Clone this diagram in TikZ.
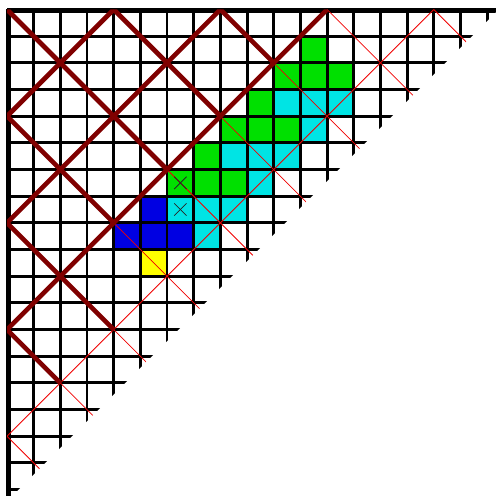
\documentclass[tikz,border=0pt]{standalone}
\usepackage{tikz}
\definecolor{pgreen}{RGB}{0,224,0}
\definecolor{pcyan}{RGB}{0,228,228}
\definecolor{pblue}{RGB}{0,0,226}
\definecolor{pyellow}{RGB}{255,255,0}
\definecolor{maroonline}{RGB}{128,0,0}
\definecolor{thinred}{RGB}{240,0,0}
\tikzset{
  gridline/.style={line width=3.1pt, black},
  borderline/.style={line width=4.2pt, black},
  thickpath/.style={line width=5pt, maroonline},
  thinpath/.style={line width=0.8pt, thinred},
  crossmark/.style={line width=0.8pt, black!85},
  cellg/.style={fill=pgreen},
  cellc/.style={fill=pcyan},
  cellb/.style={fill=pblue},
  celly/.style={fill=pyellow}
}
\begin{document}
\begin{tikzpicture}[x=1cm,y=-1cm]
\useasboundingbox (-0.2625,-0.356) rectangle (18.30,18.24);
% coloured cells
\foreach \c/\r in {11/1, 10/2, 11/2, 12/2, 9/3, 8/4, 9/4, 10/4, 7/5, 6/6, 7/6, 8/6}
  \fill[cellg] (\c,\r) rectangle ++(1,1);
\foreach \c/\r in {10/3, 11/3, 12/3, 11/4, 8/5, 9/5, 10/5, 9/6, 6/7, 7/7, 8/7, 7/8}
  \fill[cellc] (\c,\r) rectangle ++(1,1);
\foreach \c/\r in {5/7, 4/8, 5/8, 6/8}
  \fill[cellb] (\c,\r) rectangle ++(1,1);
\fill[celly] (5,9) rectangle ++(1,1);
% grid, clipped along the staircase diagonal
\begin{scope}
  \clip (-1,-1) -- (19.43,-1) -- (-1,19.43) -- cycle;
  \draw[gridline] (0,0) grid (20,20);
  \draw[borderline] (0.06,0) -- (0.06,20);
  \draw[borderline] (0,0.07) -- (20,0.07);
\end{scope}
% red diagonal lines
\begin{scope}
  \clip (0,0) -- (18.43,0) -- (0,18.43) -- cycle;
  \draw[thinpath] (0,16) -- (16,0);
  \draw[thinpath] (6,6) -- (16,16);
  \draw[thinpath] (8,4) -- (18,14);
  \draw[thinpath] (10,2) -- (20,12);
  \draw[thinpath] (12,0) -- (22,10);
  \draw[thinpath] (16,0) -- (26,10);
  \draw[thinpath] (4,8) -- (14,18);
  \draw[thinpath] (4,12) -- (14,22);
  \draw[thinpath] (2,14) -- (12,24);
  \draw[thinpath] (0,16) -- (10,26);
  \draw[thickpath] (0,4) -- (4,0);
  \draw[thickpath] (0,8) -- (8,0);
  \draw[thickpath] (0,12) -- (12,0);
  \draw[thickpath] (0,0) -- (6,6);
  \draw[thickpath] (4,0) -- (8,4);
  \draw[thickpath] (8,0) -- (10,2);
  \draw[thickpath] (0,4) -- (4,8);
  \draw[thickpath] (0,8) -- (4,12);
  \draw[thickpath] (0,12) -- (2,14);
\end{scope}
% crosses
\foreach \c/\r in {6/6, 6/7} {
  \draw[crossmark] (\c+0.27,\r+0.27) -- (\c+0.73,\r+0.73);
  \draw[crossmark] (\c+0.27,\r+0.73) -- (\c+0.73,\r+0.27);
}
\end{tikzpicture}
\end{document}
